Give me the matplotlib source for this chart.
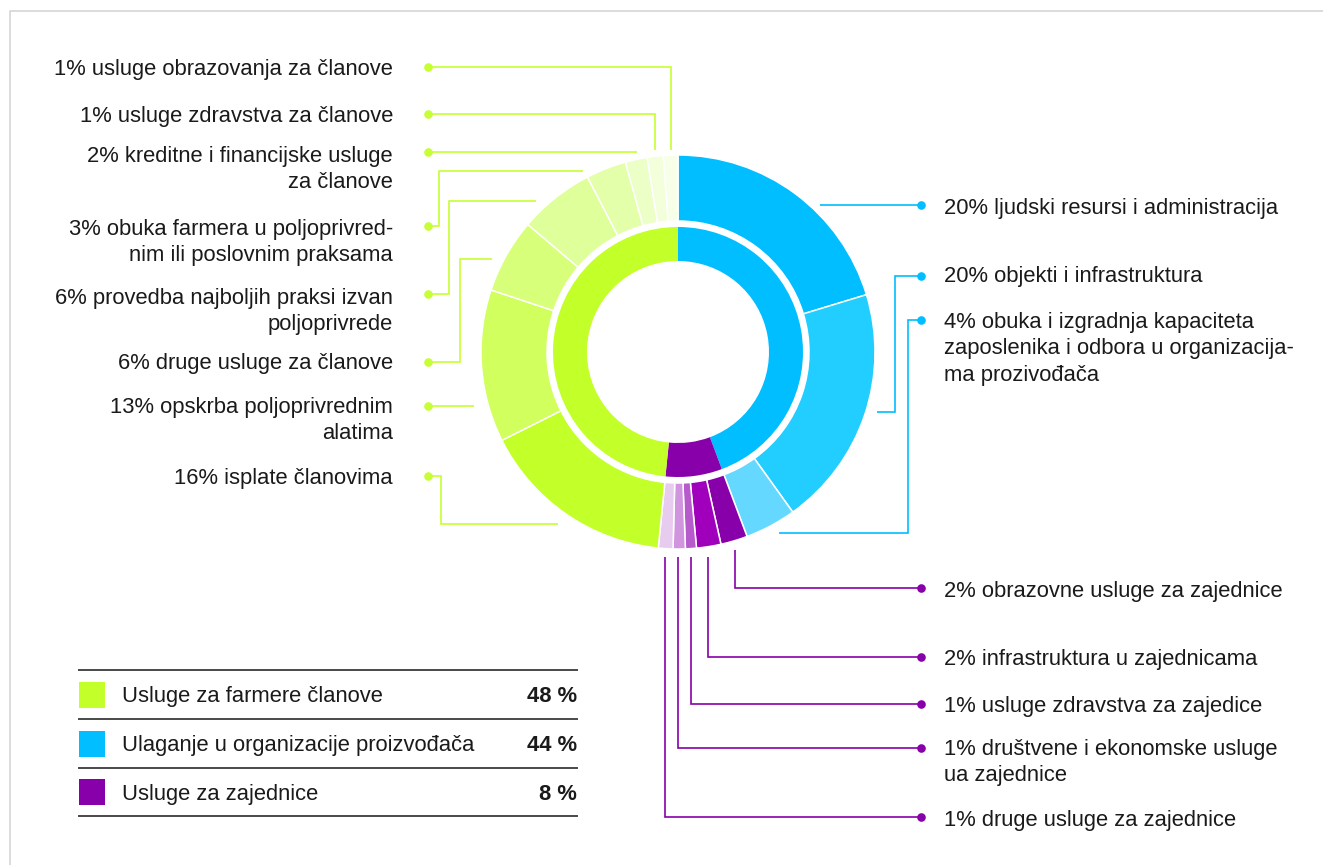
import matplotlib
matplotlib.use("Agg")
import matplotlib.pyplot as plt
from matplotlib.patches import Rectangle

plt.rcParams['font.family'] = ['Liberation Sans', 'DejaVu Sans']

# ---------------- data ----------------
inner_names = ["Ulaganje u organizacije proizvođača", "Usluge za zajednice", "Usluge za farmere članove"]
inner_values = [44.3, 7.3, 48.4]
inner_colors = ["#00BEFF", "#8800AA", "#C3FF29"]

blue_labels = ["20% ljudski resursi i administracija",
               "20% objekti i infrastruktura",
               "4% obuka i izgradnja kapaciteta\nzaposlenika i odbora u organizacija-\nma prozivođača"]
blue_values = [20.3, 19.8, 4.2]
blue_colors = ["#00BEFF", "#22CDFF", "#64D8FF"]

purple_labels = ["2% obrazovne usluge za zajednice",
                 "2% infrastruktura u zajednicama",
                 "1% usluge zdravstva za zajedice",
                 "1% društvene i ekonomske usluge\nua zajednice",
                 "1% druge usluge za zajednice"]
purple_values = [2.2, 2.0, 0.9, 1.0, 1.2]
purple_colors = ["#8800AA", "#A000BB", "#B65ACC", "#D195E0", "#E8CCF0"]

green_labels = ["16% isplate članovima",
                "13% opskrba poljoprivrednim\nalatima",
                "6% druge usluge za članove",
                "6% provedba najboljih praksi izvan\npoljoprivrede",
                "3% obuka farmera u poljoprivred-\nnim ili poslovnim praksama",
                "2% kreditne i financijske usluge\nza članove",
                "1% usluge zdravstva za članove",
                "1% usluge obrazovanja za članove"]
green_values = [16.0, 12.5, 6.1, 6.2, 3.3, 1.8, 1.3, 1.2]
green_colors = ["#C3FF29", "#D1FF5E", "#D8FF7A", "#DEFF99", "#E4FFAA", "#ECFFC6", "#F2FFDA", "#F8FFE9"]

legend_names = ["Usluge za farmere članove", "Ulaganje u organizacije proizvođača", "Usluge za zajednice"]
legend_pcts = ["48 %", "44 %", "8 %"]
legend_colors = ["#C3FF29", "#00BEFF", "#8800AA"]

# ---------------- layout ----------------
W, H = 1323, 865
fig = plt.figure(figsize=(W / 100, H / 100), dpi=100)
ax = fig.add_axes([0, 0, 1, 1])

CX, CY = 678, 352
R_OUT, W_OUT = 197, 66
R_IN, W_IN = 125, 34

outer_values = blue_values + purple_values + green_values
outer_colors = blue_colors + purple_colors + green_colors

# y axis inverted -> startangle -90 / counterclock True gives clockwise from top
ax.pie(outer_values, colors=outer_colors, radius=R_OUT, center=(CX, CY),
       startangle=-90, counterclock=True,
       wedgeprops=dict(width=W_OUT, edgecolor="white", linewidth=1.1))
ax.pie(inner_values, colors=inner_colors, radius=R_IN, center=(CX, CY),
       startangle=-90, counterclock=True,
       wedgeprops=dict(width=W_IN, edgecolor="none", linewidth=0))

ax.set_xlim(0, W)
ax.set_ylim(H, 0)
ax.set_aspect("equal")
ax.axis("off")

FS = 15.8
TXT = "#1a1a1a"
LS = 26.5       # line spacing px
CAPH = 7.9      # half cap height px

def put_label(x, ycenter, text, ha):
    for i, line in enumerate(text.split("\n")):
        ax.text(x, ycenter + CAPH + i * LS, line, ha=ha, va="baseline",
                fontsize=FS, color=TXT)

GREEN_LINE = "#C6FF33"
BLUE_LINE = "#00BEFF"
PURPLE_LINE = "#8800AA"

def leader(path, color):
    xs = [p[0] for p in path]
    ys = [p[1] for p in path]
    ax.plot(xs, ys, color=color, lw=1.2, solid_joinstyle="miter", solid_capstyle="butt")
    ax.plot([xs[0]], [ys[0]], "o", color=color, ms=6.2, mec="none")

# left (green) labels: top to bottom
left_text_y = [67, 114, 154, 227, 296, 361, 405, 476]
left_paths = [
    [(428, 67), (670.5, 67), (670.5, 150)],
    [(428, 114), (655, 114), (655, 150)],
    [(428, 152), (637, 152)],
    [(428, 226), (439, 226), (439, 171), (583, 171)],
    [(428, 294), (449, 294), (449, 201), (536, 201)],
    [(428, 362), (460, 362), (460, 259), (492, 259)],
    [(428, 406), (474, 406)],
    [(428, 476), (441, 476), (441, 524), (558, 524)],
]
for lab, ty, path in zip(green_labels[::-1], left_text_y, left_paths):
    put_label(393, ty, lab, "right")
    leader(path, GREEN_LINE)

# right blue labels
blue_text_y = [206, 274, 320]
blue_paths = [
    [(921, 205), (820, 205)],
    [(921, 276), (895, 276), (895, 412), (877, 412)],
    [(921, 320), (908, 320), (908, 533), (779, 533)],
]
for lab, ty, path in zip(blue_labels, blue_text_y, blue_paths):
    put_label(944, ty, lab, "left")
    leader(path, BLUE_LINE)

# right purple labels
purple_text_y = [589, 657, 704, 747, 818]
purple_paths = [
    [(921, 588), (735, 588), (735, 550)],
    [(921, 657), (707.5, 657), (707.5, 557)],
    [(921, 704), (691, 704), (691, 557)],
    [(921, 748), (678, 748), (678, 557)],
    [(921, 817), (664.5, 817), (664.5, 557)],
]
for lab, ty, path in zip(purple_labels, purple_text_y, purple_paths):
    put_label(944, ty, lab, "left")
    leader(path, PURPLE_LINE)

# legend table
rule_y = [670, 719, 768, 816]
for y in rule_y:
    ax.plot([78, 578], [y, y], color="#3a3a3a", lw=1.3, solid_capstyle="butt")
for i, (name, pct, col) in enumerate(zip(legend_names, legend_pcts, legend_colors)):
    yc = (rule_y[i] + rule_y[i + 1]) / 2
    ax.add_patch(Rectangle((78.5, yc - 13), 26, 26, facecolor=col, edgecolor="none"))
    ax.text(122, yc + CAPH, name, ha="left", va="baseline", fontsize=FS, color=TXT)
    ax.text(577, yc + CAPH, pct, ha="right", va="baseline", fontsize=FS,
            color=TXT, fontweight="bold")

# frame lines (top and left)
ax.plot([9.5, 9.5, W], [H, 10.5, 10.5], color="#d2d2d2", lw=1.1)

fig.savefig("out.png", dpi=100)
